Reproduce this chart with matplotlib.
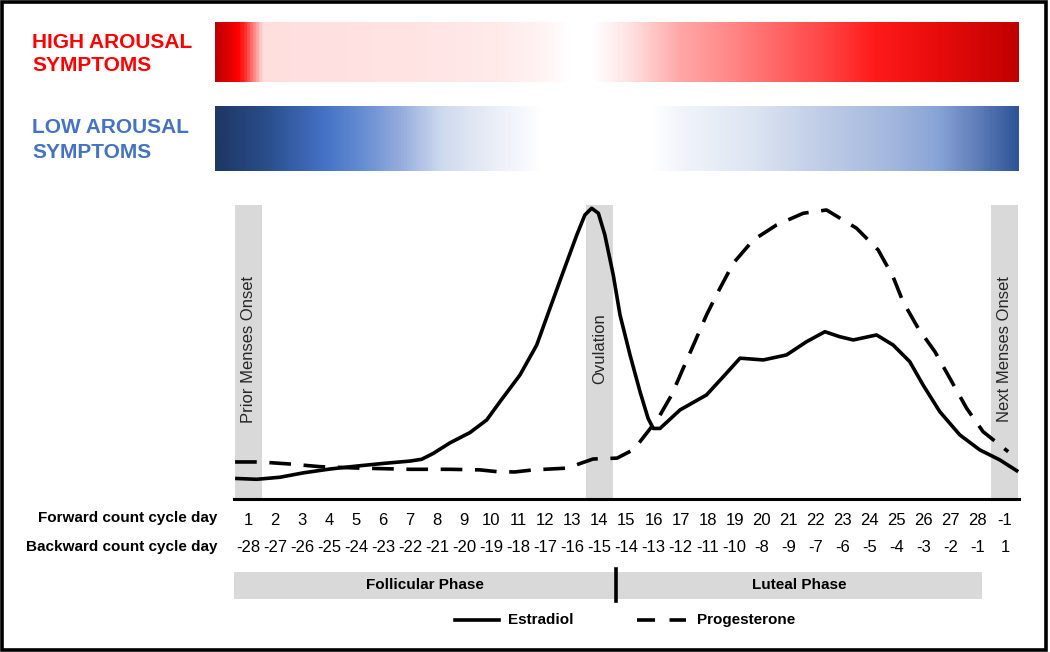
import numpy as np
import matplotlib
matplotlib.use('Agg')
import matplotlib.pyplot as plt
import matplotlib.transforms as mtransforms
from matplotlib.colors import LinearSegmentedColormap
from matplotlib.patches import Rectangle
from matplotlib.lines import Line2D

plt.rcParams['font.family'] = ['Liberation Sans', 'DejaVu Sans']

# hormone curves (cycle day, relative level 0-100)
days_e = [0.52, 1.32, 2.18, 3.05, 4.03, 5.02, 6.00, 6.99, 7.42, 7.85, 8.47, 9.21,
          9.83, 10.32, 11.06, 11.68, 12.17, 12.66, 13.16, 13.46, 13.71, 13.96, 14.20,
          14.51, 14.76, 15.13, 15.50, 15.80, 15.99, 16.24, 16.98, 17.96, 18.58, 19.20,
          20.06, 20.92, 21.66, 22.34, 22.89, 23.39, 24.25, 24.86, 25.48, 25.97, 26.59,
          27.33, 28.07, 28.81, 29.49]
estradiol = [7.0, 6.7, 7.4, 8.9, 10.2, 11.2, 12.1, 12.9, 13.5, 15.5, 19.1, 22.6,
             26.9, 33.1, 42.2, 52.4, 64.9, 77.3, 89.8, 96.6, 98.9, 97.2, 89.8,
             76.2, 62.6, 49.0, 36.5, 27.4, 24.0, 24.0, 30.3, 35.4, 41.6, 47.9,
             47.3, 49.0, 53.5, 56.9, 55.2, 54.1, 55.8, 52.4, 46.7, 38.8, 29.7,
             21.8, 16.7, 13.3, 9.3]

days_p = [0.52, 1.44, 2.55, 3.66, 5.14, 6.99, 8.47, 9.58, 10.21, 10.87, 11.54, 12.80,
          13.76, 14.65, 15.24, 15.50, 16.17, 16.67, 17.10, 17.53, 17.96, 18.39, 18.95,
          19.69, 20.55, 21.54, 22.40, 23.51, 24.31, 24.86, 25.23, 25.79, 26.41, 26.96,
          27.58, 28.19, 29.12]
progesterone = [12.6, 12.6, 11.9, 11.0, 10.5, 10.1, 10.1, 9.9, 9.3, 9.2, 9.9, 10.5,
                13.6, 13.9, 16.7, 19.5, 27.4, 35.4, 44.5, 53.5, 62.6, 70.5, 80.2,
                88.1, 93.2, 97.2, 98.3, 92.1, 84.7, 75.6, 67.1, 58.1, 50.1, 41.1,
                30.9, 22.9, 16.1]

# cycle day labels
days = list(range(1, 30))
forward_labels = [str(d) for d in range(1, 29)] + ['-1']
backward_labels = [str(d) for d in range(-28, -9)] + ['-8', '-9', '-7', '-6', '-5',
                                                       '-4', '-3', '-2', '-1', '1']

# marked events
event_days = [1, 14, 29]
event_labels = ['Prior Menses Onset', 'Ovulation', 'Next Menses Onset']

# phases
phase_names = ['Follicular Phase', 'Luteal Phase']
phase_start = 0.48
phase_split = 14.6
phase_end = 28.15

# symptom gradients (fraction along bar, colour)
red_pos = [0.0, 0.027, 0.035, 0.058, 0.23, 0.354, 0.41, 0.438, 0.47, 0.516,
           0.578, 0.64, 0.703, 0.765, 0.823, 0.9, 1.0]
red_cols = ['#C00000', '#FF0000', '#FF3030', '#FFDEDE', '#FFE3E3', '#FFEAEA',
            '#FFF4F4', '#FFFFFF', '#FFFFFF', '#FFE2E2', '#FFA8A8', '#FF8888',
            '#FF6565', '#FF4141', '#FF1A1A', '#E80C0C', '#C20000']
blue_pos = [0.0, 0.056, 0.134, 0.18, 0.23, 0.28, 0.33, 0.38, 0.404, 0.545,
            0.578, 0.665, 0.744, 0.852, 0.902, 0.951, 1.0]
blue_cols = ['#1F3864', '#284B87', '#4472C4', '#648CD2', '#96ACDE', '#CDD9EE',
             '#E4EAF5', '#F5F7FC', '#FFFFFF', '#FFFFFF', '#F2F5FA', '#DEE6F3',
             '#C3D0E8', '#A0B4DC', '#87A3D6', '#5F7DB9', '#2F5597']

W, H = 1050, 652
fig = plt.figure(figsize=(W / 100, H / 100), dpi=100)


def fx(px):
    return px / W


def fy(py):
    return (H - py) / H


def gradient_bar(top, bottom, pos, cols):
    bar = fig.add_axes([fx(215), fy(bottom), fx(1019) - fx(215), fy(top) - fy(bottom)])
    cmap = LinearSegmentedColormap.from_list('g', list(zip(pos, cols)))
    bar.imshow(np.linspace(0, 1, 800)[None, :], aspect='auto', cmap=cmap,
               extent=[0, 1, 0, 1], interpolation='bilinear')
    bar.set_axis_off()


gradient_bar(22, 82, red_pos, red_cols)
gradient_bar(106, 171, blue_pos, blue_cols)

fig.text(fx(32), fy(54), 'HIGH AROUSAL\nSYMPTOMS', color='#FF0000', fontsize=15,
         fontweight='bold', ha='left', va='center', linespacing=1.3)
fig.text(fx(32), fy(140), 'LOW AROUSAL\nSYMPTOMS', color='#4472C4', fontsize=15,
         fontweight='bold', ha='left', va='center', linespacing=1.35)

# main chart
ax = fig.add_axes([fx(234), fy(499), fx(1019) - fx(234), fy(205) - fy(499)])
ax.set_xlim(0.48, 29.52)
ax.set_ylim(0, 100)

for d, lab in zip(event_days, event_labels):
    ax.axvspan(d - 0.5, d + 0.5, color='#D9D9D9', lw=0, zorder=0)
    ax.text(d, 51, lab, rotation=90, ha='center', va='center', fontsize=12,
            color='#262626', zorder=1)

ax.plot(days_e, estradiol, color='black', lw=2.6, solid_joinstyle='round',
        solid_capstyle='butt', clip_on=False, zorder=3)
ax.plot(days_p, progesterone, color='black', lw=2.6, dashes=(6, 3.5),
        dash_capstyle='butt', dash_joinstyle='round', clip_on=False, zorder=3)

for s in ['top', 'right', 'left']:
    ax.spines[s].set_visible(False)
ax.spines['bottom'].set_linewidth(2.2)
ax.set_yticks([])
ax.set_xticks(days, forward_labels, fontsize=12)
ax.tick_params(axis='x', length=0, pad=10)

trans = mtransforms.blended_transform_factory(ax.transData, fig.transFigure)
for d, lab in zip(days, backward_labels):
    fig.text(d, fy(547), lab, transform=trans, ha='center', va='center', fontsize=12)

fig.text(fx(217), fy(518), 'Forward count cycle day', ha='right', va='center',
         fontsize=11, fontweight='bold')
fig.text(fx(217), fy(547), 'Backward count cycle day', ha='right', va='center',
         fontsize=11, fontweight='bold')

# phase bar
fig.add_artist(Rectangle((phase_start, fy(599)), phase_end - phase_start, fy(572) - fy(599),
                         transform=trans, color='#D9D9D9', lw=0))
fig.add_artist(Line2D([phase_split, phase_split], [fy(601), fy(569)], transform=trans,
                      color='black', lw=2.6))
fig.text((phase_start + phase_split) / 2, fy(585), phase_names[0], transform=trans,
         ha='center', va='center', fontsize=11, fontweight='bold')
fig.text((phase_split + phase_end) / 2, fy(585), phase_names[1], transform=trans,
         ha='center', va='center', fontsize=11, fontweight='bold')

# legend
fig.add_artist(Line2D([fx(455), fx(499)], [fy(620), fy(620)], color='black', lw=2.6))
fig.text(fx(508), fy(620), 'Estradiol', ha='left', va='center', fontsize=11,
         fontweight='bold')
fig.add_artist(Line2D([fx(637), fx(686)], [fy(620), fy(620)], color='black', lw=2.6,
                      dashes=(5, 4)))
fig.text(fx(697), fy(620), 'Progesterone', ha='left', va='center', fontsize=11,
         fontweight='bold')

# outer frame
fig.add_artist(Rectangle((fx(2), fy(650)), fx(1046) - fx(2), fy(2) - fy(650),
                         transform=fig.transFigure, fill=False, ec='black', lw=2.6))

fig.savefig('out.png', dpi=100)
